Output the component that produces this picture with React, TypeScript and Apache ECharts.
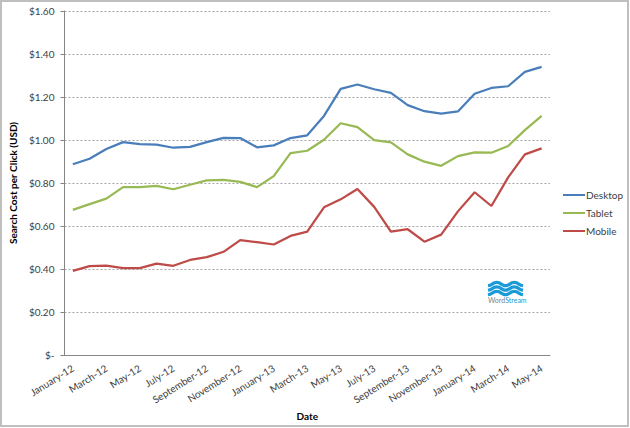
import React, { useEffect, useRef } from "react";
import * as echarts from "echarts";

const months = ["January", "February", "March", "April", "May", "June", "July", "August", "September", "October", "November", "December"];
const categories: string[] = [];
for (const yr of ["12", "13", "14"]) {
  for (const m of months) {
    categories.push(`${m}-${yr}`);
  }
}
const cats = categories.slice(0, 29);

const desktop = [0.887, 0.913, 0.958, 0.99, 0.981, 0.978, 0.964, 0.968, 0.99, 1.01, 1.009, 0.966, 0.975, 1.009, 1.022, 1.112, 1.238, 1.258, 1.236, 1.219, 1.162, 1.134, 1.123, 1.133, 1.215, 1.242, 1.25, 1.317, 1.34];
const tablet = [0.675, 0.702, 0.727, 0.781, 0.781, 0.787, 0.771, 0.792, 0.812, 0.815, 0.805, 0.781, 0.832, 0.939, 0.95, 1.001, 1.078, 1.06, 0.999, 0.989, 0.933, 0.899, 0.88, 0.925, 0.942, 0.941, 0.972, 1.046, 1.112];
const mobile = [0.391, 0.413, 0.416, 0.404, 0.404, 0.425, 0.415, 0.442, 0.455, 0.48, 0.534, 0.525, 0.514, 0.554, 0.574, 0.687, 0.724, 0.772, 0.689, 0.574, 0.585, 0.527, 0.56, 0.668, 0.757, 0.693, 0.826, 0.933, 0.961];

const seriesNames = ["Desktop", "Tablet", "Mobile"];
const seriesColors = ["#4a7ebb", "#98b954", "#be4b48"];

const FONT = "Lato, 'Open Sans', sans-serif";

export default function App() {
  const ref = useRef<HTMLDivElement>(null);
  useEffect(() => {
    if (!ref.current) return;
    const chart = echarts.init(ref.current, null, { renderer: "svg" });
    const wave = (y0: number) => {
      const pts: number[][] = [];
      for (let i = 0; i <= 16; i++) {
        const x = 488 + (35 * i) / 16;
        pts.push([x, y0 + 1.7 * Math.cos((i / 16) * Math.PI * 4)]);
      }
      return pts;
    };
    chart.setOption({
      animation: false,
      backgroundColor: "#ffffff",
      textStyle: { fontFamily: FONT },
      grid: { left: 63, right: 80, top: 11, bottom: 73, containLabel: false },
      legend: {
        orient: "vertical",
        left: 563,
        top: 190,
        padding: 0,
        icon: "rect",
        itemWidth: 22,
        itemHeight: 2,
        itemGap: 8,
        textStyle: { color: "#404040", fontSize: 10, fontFamily: FONT, padding: [0, 0, 0, -4] },
        data: seriesNames,
      },
      xAxis: {
        type: "category",
        data: cats,
        boundaryGap: true,
        name: "Date",
        nameLocation: "middle",
        nameGap: 52,
        nameTextStyle: { fontWeight: "bold", fontSize: 10, color: "#000" },
        axisLine: { lineStyle: { color: "#868686" } },
        axisTick: { interval: 1, length: 5, lineStyle: { color: "#868686" } },
        axisLabel: { interval: 1, rotate: 32, fontSize: 10, color: "#404040", margin: 12 },
      },
      yAxis: {
        type: "value",
        min: 0,
        max: 1.6,
        interval: 0.2,
        name: "Search Cost per Click (USD)",
        nameLocation: "middle",
        nameGap: 37,
        nameTextStyle: { fontWeight: "bold", fontSize: 10, color: "#000" },
        axisLine: { show: true, lineStyle: { color: "#868686" } },
        axisTick: { show: true, length: 4, lineStyle: { color: "#868686" } },
        axisLabel: {
          fontSize: 10,
          color: "#404040",
          margin: 10,
          formatter: (v: number) => (v === 0 ? "$-" : "$" + v.toFixed(2)),
        },
        splitLine: { lineStyle: { type: [2, 2], color: "#a6a6a6" } },
      },
      series: seriesNames.map((n, i) => ({
        name: n,
        type: "line",
        data: [desktop, tablet, mobile][i],
        symbol: "none",
        color: seriesColors[i],
        lineStyle: { width: 2.25, color: seriesColors[i] },
      })),
      graphic: [
        {
          type: "rect",
          shape: { x: 1, y: 1, width: 627, height: 425 },
          style: { fill: "none", stroke: "#bfbfbf", lineWidth: 2 },
          silent: true,
        },
        ...[284, 288.5, 293].map((y) => ({
          type: "polyline",
          shape: { points: wave(y), smooth: 0.3 },
          style: { stroke: "#1a9ad6", lineWidth: 3.2, fill: "none" },
          silent: true,
        })),
        {
          type: "text",
          x: 488,
          y: 296,
          style: {
            text: "{a|Word}{b|Stream}",
            rich: {
              a: { fontSize: 7, fill: "#7f7f7f", fontFamily: FONT },
              b: { fontSize: 7, fill: "#1a9ad6", fontFamily: FONT },
            },
          },
          silent: true,
        },
      ],
    });
    return () => chart.dispose();
  }, []);
  return (
    <div
      ref={ref}
      style={{ position: "fixed", left: 0, top: 0, width: 630, height: 428 }}
    />
  );
}
